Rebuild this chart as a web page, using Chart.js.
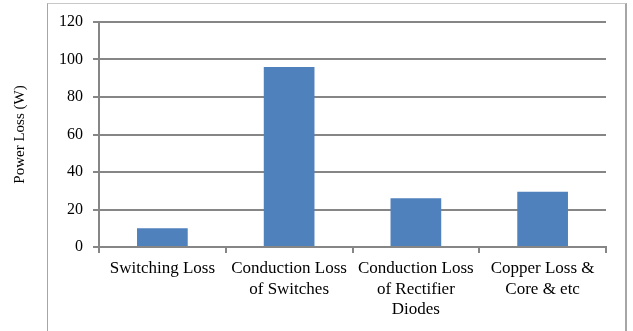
<!DOCTYPE html>
<html>
<head>
<meta charset="utf-8">
<script src="https://cdn.jsdelivr.net/npm/chart.js@4"></script>
<style>
  html, body { margin: 0; padding: 0; background: #fff; }
  #wrap { position: relative; width: 633px; height: 331px; overflow: hidden; }
  #frame {
    position: absolute; left: 47px; top: 3px; width: 577px; height: 400px;
    border-left: 1px solid #a6a6a6; border-top: 1px solid #c8c8c8; border-right: 2px solid #a6a6a6;
    pointer-events: none;
  }
</style>
</head>
<body>
<div id="wrap">
  <canvas id="chart" width="633" height="331"></canvas>
  <div id="frame"></div>
</div>
<script>
// categories and values
var categories = [
    'Switching Loss',
    ['Conduction Loss', 'of Switches'],
    ['Conduction Loss', 'of Rectifier', 'Diodes'],
    ['Copper Loss &', 'Core & etc']
];
var powerLoss = [10, 96, 26, 29.5];
var yTicks = [0, 20, 40, 60, 80, 100, 120];

var gridGray = '#868686';
var serif = 'Liberation Serif, Times New Roman, serif';

new Chart(document.getElementById('chart').getContext('2d'), {
    type: 'bar',
    data: {
        labels: categories,
        datasets: [{
            data: powerLoss,
            backgroundColor: '#4F81BD',
            categoryPercentage: 1,
            barPercentage: 0.4
        }]
    },
    options: {
        responsive: false,
        animation: false,
        layout: { padding: { top: 22, right: 27, bottom: 0, left: 0 } },
        plugins: { legend: { display: false }, tooltip: { enabled: false } },
        scales: {
            x: {
                grid: { drawOnChartArea: false, drawTicks: true, tickLength: 6, color: gridGray, lineWidth: 2 },
                border: { display: true, color: gridGray, width: 2 },
                ticks: {
                    color: '#000', font: { family: serif, size: 17, lineHeight: 1.18 }, padding: 6,
                    maxRotation: 0, autoSkip: false
                },
                afterFit: function (scale) { scale.height = 84; }
            },
            y: {
                min: yTicks[0],
                max: yTicks[yTicks.length - 1],
                afterBuildTicks: function (scale) {
                    scale.ticks = yTicks.map(function (v) { return { value: v }; });
                },
                grid: { color: gridGray, lineWidth: 2, tickLength: 6 },
                border: { display: true, color: gridGray, width: 2 },
                ticks: { color: '#000', font: { family: serif, size: 16 }, padding: 10 },
                title: {
                    display: true, text: 'Power Loss (W)', color: '#000',
                    font: { family: serif, size: 15 }, padding: 11
                },
                afterFit: function (scale) { scale.width = 99; }
            }
        }
    }
});
</script>
</body>
</html>
